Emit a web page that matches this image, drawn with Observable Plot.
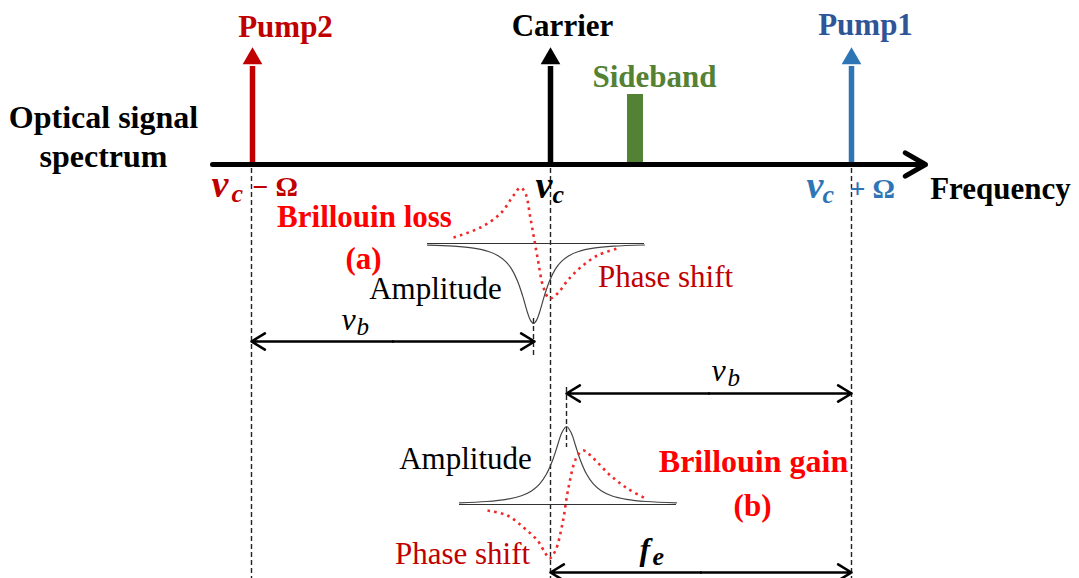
<!DOCTYPE html>
<html><head><meta charset="utf-8">
<script src="https://cdn.jsdelivr.net/npm/d3@7"></script>
<script src="https://cdn.jsdelivr.net/npm/@observablehq/plot@0.6"></script>
<style>html,body{margin:0;padding:0;background:#fff}svg{display:block}</style>
</head><body><div id="chart"></div>
<script>
const SERIF = "Liberation Serif";
const DARKRED = "#c00000", RED = "#ff0000", DOTRED = "#f02a2a", BLUE = "#2e75b6", BLUE_TXT = "#2f5597", GREEN = "#548235";

// Spectral lines on the frequency axis (diagram units)
const spectralLines = [
  {name: "Pump2", f: 252, color: DARKRED, labelColor: DARKRED, labelX: 285, labelY: 36},
  {name: "Carrier", f: 550, color: "#000", labelColor: "#000", labelX: 562, labelY: 35},
  {name: "Pump1", f: 851, color: BLUE, labelColor: BLUE_TXT, labelX: 865, labelY: 34}
];
const axisY = 164, lineTop = 47, headBase = 64;
const sideband = [{x1: 627, x2: 643, y1: 94, y2: 164}];

// Brillouin loss (a): amplitude dip and phase-shift curve
const lossAmp = [[427,244.6],[453,245.7],[473,247.7],[488,251],[498,255.4],[505,260.9],[511,268.4],[517,280.4],[522,294.9],[527,312],[530,319.9],[533,323],[536,319.9],[539,312],[544,294.9],[549,280.4],[555,268.4],[561,260.9],[568,255.4],[578,251],[593,247.7],[613,245.7],[644,244.5]];
const lossPhase = [[453,237],[480,227],[500,213],[513,195],[520,187],[525,193],[530,218],[537,257],[543,287],[549,298],[557,293],[567,280],[580,267],[597,255],[617,248]];
// Brillouin gain (b)
const gainAmp = [[459,502.3],[486,501],[506,498.8],[521,495.2],[531,490.5],[539,483.7],[546,473.5],[552,460],[557,445],[561,433],[566,426],[571,433],[575,445],[580,460],[586,473.5],[593,483.7],[601,490.5],[611,495.2],[626,498.8],[646,501],[676,502.3]];
const gainPhase = [[487,510],[507,515],[523,527],[537,540],[545,553],[549,558],[555,550],[562,523],[568,487],[576,457],[583,450],[593,458],[610,475],[627,488],[647,499]];
const baselines = [{x1: 427, x2: 644, y: 243}, {x1: 459, x2: 676, y: 504}];

// Dashed guide lines
const guides = [
  {x: 251, y1: 168, y2: 578}, {x: 550, y1: 168, y2: 578}, {x: 851, y1: 168, y2: 578},
  {x: 533, y1: 318, y2: 356}, {x: 566, y1: 387, y2: 447}
];
// Double-headed spans
const spans = [
  {x1: 251, x2: 534, y: 341}, {x1: 566, x2: 851, y: 393}, {x1: 550, x2: 851, y: 572}
];
const spanHalves = spans.flatMap(s => {
  const m = (s.x1 + s.x2) / 2;
  return [{xa: m, xb: s.x1, y: s.y}, {xa: m, xb: s.x2, y: s.y}];
});

// Text
const boldLabels = [
  ...spectralLines.map(d => ({t: d.name, x: d.labelX, y: d.labelY, c: d.labelColor, s: 31})),
  {t: "Sideband", x: 654, y: 86, c: GREEN, s: 31},
  {t: "Optical signal", x: 103, y: 127, c: "#000", s: 32},
  {t: "spectrum", x: 103, y: 166, c: "#000", s: 32},
  {t: "Frequency", x: 1000, y: 198, c: "#000", s: 31},
  {t: "Brillouin loss", x: 364, y: 226, c: RED, s: 31},
  {t: "(a)", x: 363, y: 268, c: RED, s: 31},
  {t: "Brillouin gain", x: 753, y: 471, c: RED, s: 32},
  {t: "(b)", x: 752, y: 515, c: RED, s: 31}
];
const plainLabels = [
  {t: "Amplitude", x: 435, y: 298, c: "#000"},
  {t: "Phase shift", x: 665, y: 286, c: DARKRED},
  {t: "Amplitude", x: 465, y: 468, c: "#000"},
  {t: "Phase shift", x: 462, y: 563, c: DARKRED}
];
// Math symbols: main letter, subscript, operator
const mathMainBold = [
  {t: "v", x: 211, y: 196, c: DARKRED, s: 38},
  {t: "v", x: 535, y: 197, c: "#000", s: 38},
  {t: "v", x: 806, y: 197, c: BLUE, s: 38},
  {t: "f", x: 639, y: 559, c: "#000", s: 32}
];
const mathMainPlain = [
  {t: "v", x: 341, y: 329, c: "#000"},
  {t: "v", x: 711, y: 380, c: "#000"}
];
const mathSubBold = [
  {t: "c", x: 231, y: 201, c: DARKRED},
  {t: "c", x: 552, y: 202, c: "#000"},
  {t: "c", x: 822, y: 202, c: BLUE},
  {t: "e", x: 652, y: 564, c: "#000"}
];
const mathSubPlain = [
  {t: "b", x: 356, y: 334, c: "#000"},
  {t: "b", x: 727, y: 385, c: "#000"}
];
const mathOps = [
  {t: "− Ω", x: 252, y: 195, c: DARKRED},
  {t: "+ Ω", x: 849, y: 197, c: BLUE}
];

const pt = {x: d => d[0], y: d => d[1]};
const dotted = {stroke: DOTRED, strokeWidth: 2.6, strokeDasharray: "2.6,4.2", strokeLinecap: "butt", curve: "catmull-rom"};
const txt = (data, o) => Plot.text(data, {x: "x", y: "y", text: "t", fill: "c", fontFamily: SERIF, lineAnchor: "bottom", ...o});
const chart = Plot.plot({
  width: 1079, height: 578, margin: 0,
  x: {domain: [0, 1079], axis: null},
  y: {domain: [0, 578], range: [0, 578], axis: null},
  color: {type: "identity"},
  marks: [
    Plot.ruleX(guides, {x: "x", y1: "y1", y2: "y2", stroke: "#222", strokeWidth: 1.4, strokeDasharray: "5,3"}),
    Plot.rect(sideband, {x1: "x1", x2: "x2", y1: "y1", y2: "y2", fill: GREEN}),
    Plot.ruleX(spectralLines, {x: "f", y1: axisY, y2: headBase + 2, stroke: "color", strokeWidth: 5.5}),
    Plot.dot(spectralLines, {x: "f", y: lineTop + 11, symbol: "triangle", r: 7.3, fill: "color", stroke: "none"}),
    Plot.arrow([{x1: 212, x2: 925, y: axisY}], {x1: "x1", x2: "x2", y1: "y", y2: "y", stroke: "#000", strokeWidth: 5, headLength: 7}),
    Plot.ruleY(baselines, {x1: "x1", x2: "x2", y: "y", stroke: "#333", strokeWidth: 1.2}),
    Plot.line(lossAmp, {...pt, stroke: "#444", strokeWidth: 1.2, curve: "catmull-rom"}),
    Plot.line(gainAmp, {...pt, stroke: "#444", strokeWidth: 1.2, curve: "catmull-rom"}),
    Plot.line(lossPhase, {...pt, ...dotted}),
    Plot.line(gainPhase, {...pt, ...dotted}),
    Plot.arrow(spanHalves, {x1: "xa", x2: "xb", y1: "y", y2: "y", stroke: "#000", strokeWidth: 2.6, headLength: 9, headAngle: 62}),
    txt(boldLabels, {fontSize: "s", fontWeight: "bold", textAnchor: "middle"}),
    txt(plainLabels, {fontSize: 31, textAnchor: "middle"}),
    txt(mathMainBold, {fontSize: "s", fontWeight: "bold", fontStyle: "italic", textAnchor: "start"}),
    txt(mathMainPlain, {fontSize: 32, fontStyle: "italic", textAnchor: "start"}),
    txt(mathSubBold, {fontSize: 26, fontWeight: "bold", fontStyle: "italic", textAnchor: "start"}),
    txt(mathSubPlain, {fontSize: 25, fontStyle: "italic", textAnchor: "start"}),
    txt(mathOps, {fontSize: 28, fontWeight: "bold", textAnchor: "start"})
  ]
});
document.getElementById("chart").appendChild(chart);
</script>
</body></html>
